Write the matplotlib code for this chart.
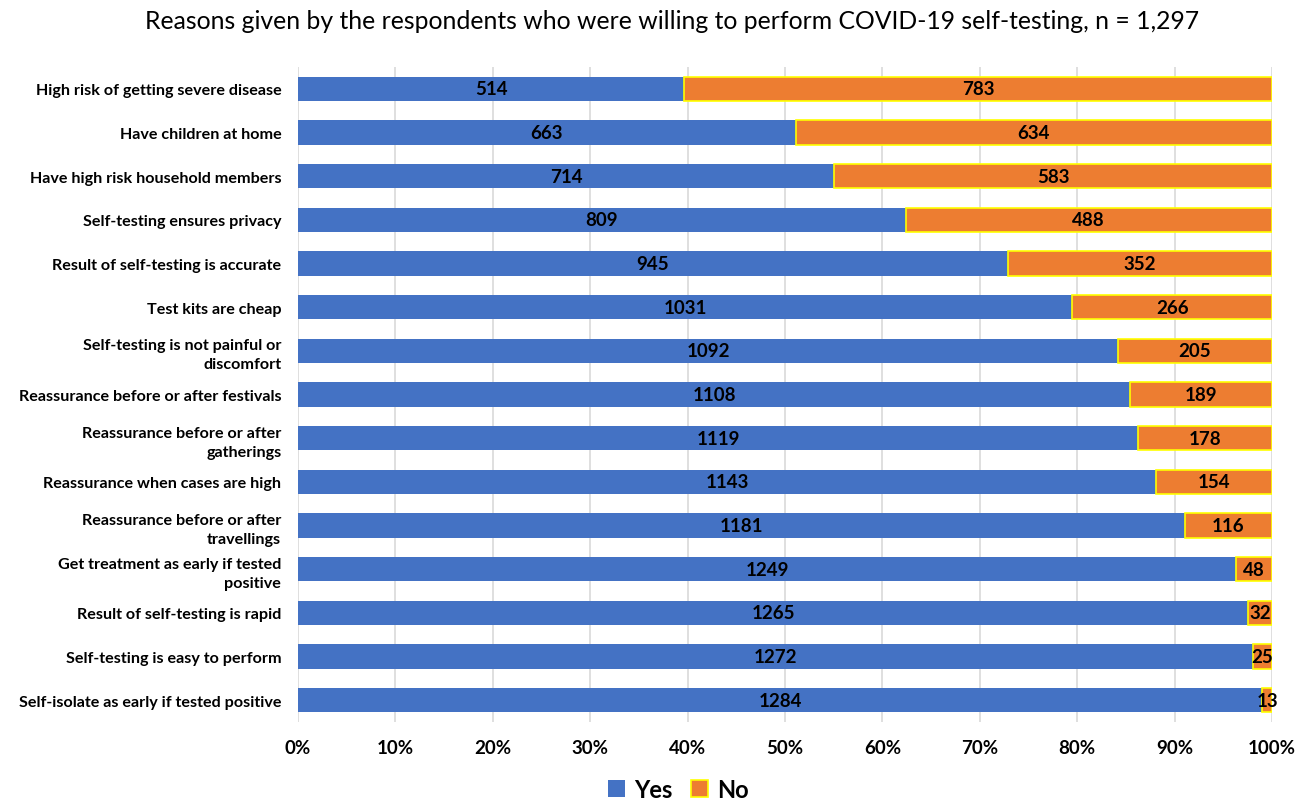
import matplotlib
matplotlib.use("Agg")
import matplotlib.pyplot as plt
from matplotlib.ticker import PercentFormatter

plt.rcParams["font.family"] = ["Lato", "DejaVu Sans"]

reasons = [
    "High risk of getting severe disease",
    "Have children at home",
    "Have high risk household members",
    "Self-testing ensures privacy",
    "Result of self-testing is accurate",
    "Test kits are cheap",
    "Self-testing is not painful or\ndiscomfort",
    "Reassurance before or after festivals",
    "Reassurance before or after\ngatherings",
    "Reassurance when cases are high",
    "Reassurance before or after\ntravellings",
    "Get treatment as early if tested\npositive",
    "Result of self-testing is rapid",
    "Self-testing is easy to perform",
    "Self-isolate as early if tested positive",
]
yes = [514, 663, 714, 809, 945, 1031, 1092, 1108, 1119, 1143, 1181, 1249, 1265, 1272, 1284]
no = [783, 634, 583, 488, 352, 266, 205, 189, 178, 154, 116, 48, 32, 25, 13]

BLUE = "#4472C4"
ORANGE = "#ED7D31"

fig = plt.figure(figsize=(13.1, 8.04), dpi=100)
ax = fig.add_axes([0.2275, 0.1007, 0.7435, 0.8147])

pos = list(range(len(reasons)))
yes_pct = [y / (y + n) * 100 for y, n in zip(yes, no)]
no_pct = [n / (y + n) * 100 for y, n in zip(yes, no)]

b1 = ax.barh(pos, yes_pct, height=0.56, color=BLUE, label="Yes", zorder=2)
b2 = ax.barh(pos, no_pct, left=yes_pct, height=0.56, color=ORANGE,
             edgecolor="#FFFF00", linewidth=1.2, label="No", zorder=2)

# counts written in the middle of each segment
for i in pos:
    ax.text(yes_pct[i] / 2, i, str(yes[i]), ha="center", va="center",
            fontsize=13.5, fontweight="bold", color="black", zorder=3)
    ax.text(yes_pct[i] + no_pct[i] / 2, i, str(no[i]), ha="center", va="center",
            fontsize=13.5, fontweight="bold", color="black", zorder=3)

ax.set_xlim(0, 100)
ax.set_ylim(len(reasons) - 0.5, -0.5)
ax.set_yticks(pos)
ax.set_yticklabels(reasons, fontsize=11.6, fontweight="bold", linespacing=1.45)
ax.set_xticks(range(0, 101, 10))
ax.xaxis.set_major_formatter(PercentFormatter(decimals=0))
for lbl in ax.get_xticklabels():
    lbl.set_fontweight("bold")
    lbl.set_fontsize(13.5)
ax.tick_params(axis="y", length=0, pad=12)
ax.tick_params(axis="x", length=0, pad=12)
ax.grid(axis="x", color="#D9D9D9", linewidth=1.2, zorder=0)
for s in ax.spines.values():
    s.set_visible(False)

fig.suptitle("Reasons given by the respondents who were willing to perform COVID-19 self-testing, n = 1,297",
             x=0.513, y=0.973, va="center", fontsize=17.8)

fig.legend(handles=[b1, b2], loc="center", bbox_to_anchor=(0.518, 0.017), ncol=2,
           frameon=False, prop={"weight": "bold", "size": 17},
           handlelength=0.7, handleheight=0.7, handletextpad=0.4, columnspacing=0.8,
           borderpad=0)

fig.savefig("out.png", dpi=100)
